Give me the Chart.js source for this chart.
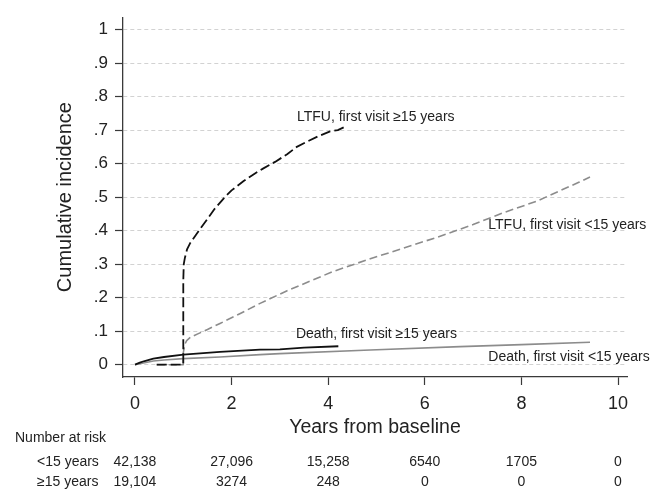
<!DOCTYPE html>
<html>
<head>
<meta charset="utf-8">
<script src="https://cdn.jsdelivr.net/npm/chart.js@4.4.1/dist/chart.umd.min.js"></script>
<style>
  html, body { margin: 0; padding: 0; background: #fff; }
  #chart { display: block; }
</style>
</head>
<body>
<canvas id="chart" width="650" height="492"></canvas>
<script>
// curves (years, cumulative incidence)
const ltfuOverX = [0.45, 1.0, 1.0, 1.01, 1.035, 1.08, 1.14, 1.25, 1.35, 1.5, 1.65, 1.86, 2.0, 2.25, 2.5, 2.65, 2.9, 3.15, 3.35, 3.6, 3.8, 4.04, 4.2, 4.35];
const ltfuOverY = [0, 0, 0.25, 0.30, 0.32, 0.345, 0.362, 0.385, 0.405, 0.435, 0.465, 0.50, 0.52, 0.548, 0.572, 0.585, 0.605, 0.628, 0.65, 0.668, 0.682, 0.696, 0.70, 0.71];

const ltfuUnderX = [0.45, 1.0, 1.0, 1.03, 1.07, 1.15, 1.3, 1.5, 1.76, 2.17, 2.59, 3.14, 4.1, 4.87, 5.5, 6.25, 7.0, 7.62, 8.32, 9.0, 9.2, 9.42];
const ltfuUnderY = [0, 0, 0.035, 0.06, 0.072, 0.082, 0.092, 0.105, 0.123, 0.152, 0.183, 0.22, 0.278, 0.316, 0.345, 0.38, 0.418, 0.453, 0.488, 0.532, 0.545, 0.56];

const deathOverX = [0, 0.1, 0.2, 0.38, 0.6, 1.0, 1.76, 2.59, 3.0, 3.5, 4.21];
const deathOverY = [0, 0.006, 0.011, 0.018, 0.023, 0.030, 0.038, 0.045, 0.046, 0.051, 0.055];

const deathUnderX = [0, 0.1, 0.38, 0.6, 1.0, 1.76, 2.59, 3.0, 4.87, 6.73, 8.0, 9.42];
const deathUnderY = [0, 0.003, 0.011, 0.014, 0.018, 0.023, 0.030, 0.033, 0.044, 0.054, 0.060, 0.067];

const curveLabels = ["LTFU, first visit \u226515 years", "LTFU, first visit <15 years", "Death, first visit \u226515 years", "Death, first visit <15 years"];
const labelX = [3.354, 7.315, 3.333, 7.315];
const labelY = [0.7375, 0.416, 0.0915, 0.0229];

const xTicks = [0, 2, 4, 6, 8, 10];
const yTicks = [0, 0.1, 0.2, 0.3, 0.4, 0.5, 0.6, 0.7, 0.8, 0.9, 1];
const yTickLabels = ["0", ".1", ".2", ".3", ".4", ".5", ".6", ".7", ".8", ".9", "1"];

// number at risk table
const riskTimes = [0, 2, 4, 6, 8, 10];
const riskGroups = ["<15 years", "\u226515 years"];
const riskUnder = [42138, 27096, 15258, 6540, 1705, 0];
const riskOver = [19104, 3274, 248, 0, 0, 0];

const FONT = "'Liberation Sans', Arial, Helvetica, sans-serif";
const TEXT = "#222";
const AXIS = "#3a3a3a";

function toPoints(xs, ys) {
  return xs.map((x, i) => ({ x: x, y: ys[i] }));
}

function fmtRisk(n) {
  return n >= 10000 ? n.toLocaleString("en-US") : String(n);
}

const extras = {
  id: "extras",
  afterDraw(chart) {
    const ctx = chart.ctx;
    const xs = chart.scales.x;
    const ys = chart.scales.y;
    ctx.save();
    ctx.fillStyle = TEXT;
    ctx.textBaseline = "middle";

    // curve labels
    ctx.font = "14px " + FONT;
    ctx.textAlign = "left";
    curveLabels.forEach((t, i) => {
      ctx.fillText(t, xs.getPixelForValue(labelX[i]), ys.getPixelForValue(labelY[i]));
    });

    // number at risk
    ctx.fillText("Number at risk", 15, 438);
    const rows = [riskUnder, riskOver];
    rows.forEach((vals, r) => {
      const y = 462 + r * 20;
      ctx.textAlign = "left";
      ctx.fillText(riskGroups[r], 37, y);
      ctx.textAlign = "center";
      vals.forEach((v, i) => {
        ctx.fillText(fmtRisk(v), xs.getPixelForValue(riskTimes[i]), y);
      });
    });
    ctx.restore();
  }
};

const ctx = document.getElementById("chart").getContext("2d");
new Chart(ctx, {
  type: "line",
  data: {
    datasets: [
      { data: toPoints(ltfuOverX, ltfuOverY), borderColor: "#111", borderWidth: 1.8, borderDash: [10, 4] },
      { data: toPoints(deathOverX, deathOverY), borderColor: "#111", borderWidth: 1.8 },
      { data: toPoints(ltfuUnderX, ltfuUnderY), borderColor: "#8c8c8c", borderWidth: 1.6, borderDash: [8, 4] },
      { data: toPoints(deathUnderX, deathUnderY), borderColor: "#8c8c8c", borderWidth: 1.6 }
    ]
  },
  options: {
    responsive: false,
    animation: false,
    events: [],
    elements: { point: { radius: 0 }, line: { tension: 0, fill: false, borderJoinStyle: "round" } },
    layout: { padding: { top: 11, right: 23, bottom: 50, left: 0 } },
    plugins: { legend: { display: false }, tooltip: { enabled: false } },
    scales: {
      x: {
        type: "linear",
        min: -0.248,
        max: 10.186,
        afterBuildTicks: s => { s.ticks = xTicks.map(v => ({ value: v })); },
        afterFit: s => { s.height = 65; },
        grid: { drawOnChartArea: false, drawTicks: true, tickLength: 8, tickColor: AXIS, tickWidth: 1.2 },
        border: { color: AXIS, width: 1.3 },
        ticks: { color: TEXT, font: { family: FONT, size: 18 }, padding: 8, maxRotation: 0 },
        title: { display: true, text: "Years from baseline", color: TEXT, font: { family: FONT, size: 19.5 }, padding: { top: 0, bottom: 3 } }
      },
      y: {
        min: -0.0367,
        max: 1.0367,
        afterBuildTicks: s => { s.ticks = yTicks.map(v => ({ value: v })); },
        afterFit: s => { s.width = 123; },
        grid: { color: "#d2d2d2", lineWidth: 1, tickLength: 8, tickColor: AXIS, tickWidth: 1.2, tickBorderDash: [] },
        border: { color: AXIS, width: 1.3, dash: [4, 3] },
        ticks: { color: TEXT, font: { family: FONT, size: 17 }, padding: 7, callback: (v, i) => yTickLabels[i] },
        title: { display: true, text: "Cumulative incidence", color: TEXT, font: { family: FONT, size: 20 }, padding: { top: 53, bottom: 0 } }
      }
    }
  },
  plugins: [extras]
});
</script>
</body>
</html>
